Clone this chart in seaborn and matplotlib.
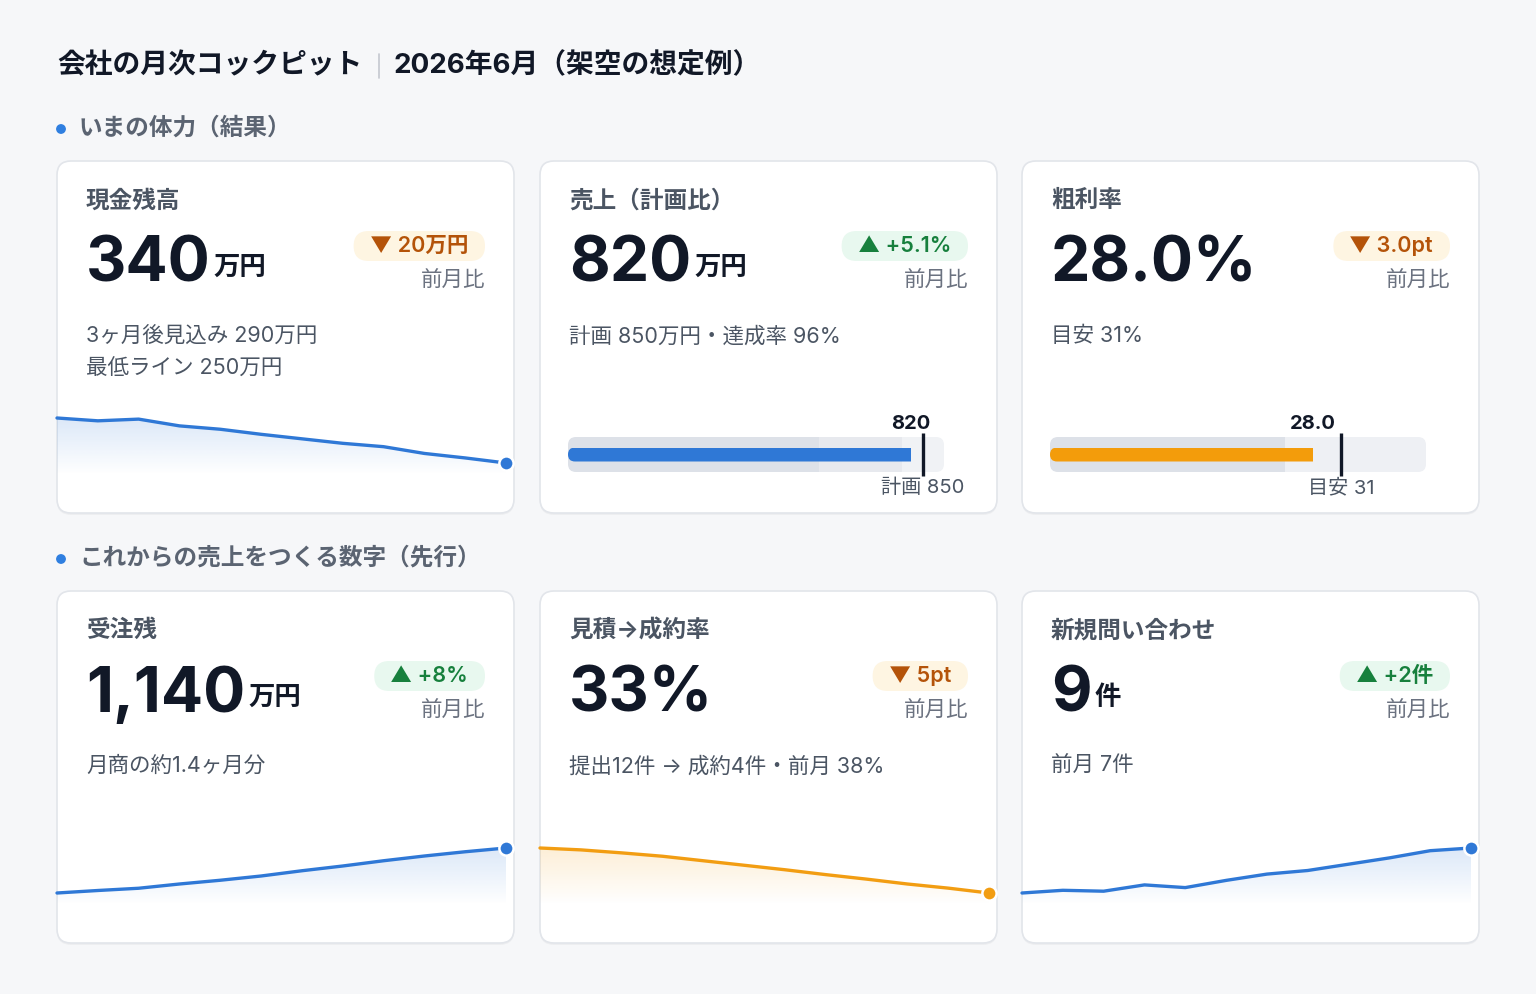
import numpy as np
import matplotlib
matplotlib.use("Agg")
import matplotlib.pyplot as plt
import seaborn as sns
from matplotlib.patches import FancyBboxPatch, Circle
from matplotlib.colors import to_rgb

W, H = 1536, 994

# ---- data ----
MONTHS = list(range(12))
CASH_TREND = [420, 415, 418, 406, 400, 391, 383, 375, 369, 357, 349, 340]
BACKLOG_TREND = [960, 970, 979, 996, 1011, 1028, 1049, 1068, 1089, 1108, 1125, 1140]
CONV_TREND = [45.0, 44.5, 43.7, 42.8, 41.6, 40.4, 39.2, 37.9, 36.7, 35.4, 34.3, 33.0]
INQUIRY_TREND = [4.0, 4.3, 4.2, 4.9, 4.6, 5.4, 6.1, 6.5, 7.2, 7.9, 8.7, 9.0]

SALES_ACTUAL = 820
SALES_PLAN = 850
SALES_BANDS = [600, 800, 900]
MARGIN_ACTUAL = 28.0
MARGIN_TARGET = 31
MARGIN_BANDS = [25, 40]

CARD_TITLES = ["現金残高", "売上（計画比）", "粗利率",
               "受注残", "見積→成約率", "新規問い合わせ"]
CARD_VALUES = ["340", "820", "28.0%", "1,140", "33%", "9"]
CARD_UNITS = ["万円", "万円", "", "万円", "", "件"]
BADGES = ["▼ 20万円", "▲ +5.1%", "▼ 3.0pt", "▲ +8%", "▼ 5pt", "▲ +2件"]
BADGE_UP = [False, True, False, True, False, True]
CARD_NOTES = [
    ["3ヶ月後見込み 290万円", "最低ライン 250万円"],
    ["計画 850万円・達成率 96%"],
    ["目安 31%"],
    ["月商の約1.4ヶ月分"],
    ["提出12件 → 成約4件・前月 38%"],
    ["前月 7件"],
]
SECTIONS = ["いまの体力（結果）", "これからの売上をつくる数字（先行）"]

# ---- style ----
BG = "#f6f7f9"
INK = "#111827"
GRAY = "#4b5563"
MUTED = "#6b7280"
BLUE = "#2f78d6"
ORANGE = "#f29d12"

sns.set_theme(style="white")
plt.rcParams["font.family"] = ["Inter", "Noto Sans CJK JP", "DejaVu Sans"]

fig = plt.figure(figsize=(W / 100, H / 100), dpi=100, facecolor=BG)
canvas = fig.add_axes([0, 0, 1, 1])
canvas.set_xlim(0, W)
canvas.set_ylim(H, 0)
canvas.set_axis_off()
renderer = fig.canvas.get_renderer()


def px_axes(x, y, w, h):
    ax = fig.add_axes([x / W, 1 - (y + h) / H, w / W, h / H])
    ax.set_axis_off()
    return ax


def text_width(t):
    return t.get_window_extent(renderer).width


# ---- header ----
t1 = canvas.text(57, 66, "会社の月次コックピット", fontsize=20, weight="bold",
                 color=INK, va="center")
x_end = 57 + text_width(t1)
canvas.plot([x_end + 17, x_end + 17], [54, 78], color="#c4c8cf", lw=1.2)
canvas.text(x_end + 31, 66, "2026年6月（架空の想定例）", fontsize=20,
            weight="bold", color=INK, va="center")

for sy, label in zip([129, 559], SECTIONS):
    canvas.add_patch(Circle((61, sy), 4.2, color="#2f7fe0"))
    canvas.text(79, sy - 1, label, fontsize=17, weight="bold", color="#5b6472",
                va="center")

CARD_X = [57, 540, 1022]
CARD_Y = [161, 591]
CARD_W, CARD_H = 457, 352

cards = []
for r, cy in enumerate(CARD_Y):
    for c, cx in enumerate(CARD_X):
        cards.append((cx, cy))

for i, (cx, cy) in enumerate(cards):
    shadow = FancyBboxPatch((cx, cy + 2), CARD_W, CARD_H,
                            boxstyle="round,pad=0,rounding_size=14",
                            facecolor="#000000", alpha=0.035, edgecolor="none")
    canvas.add_patch(shadow)
    card = FancyBboxPatch((cx, cy), CARD_W, CARD_H,
                          boxstyle="round,pad=0,rounding_size=14",
                          facecolor="white", edgecolor="#e2e5ea", lw=1.2)
    canvas.add_patch(card)

    canvas.text(cx + 29, cy + 40, CARD_TITLES[i], fontsize=17, weight="bold",
                color=GRAY, va="center")
    big = canvas.text(cx + 29, cy + 121, CARD_VALUES[i], fontsize=45,
                      weight="bold", color=INK, va="baseline")
    if CARD_UNITS[i]:
        ux = cx + 29 + text_width(big) + 3
        canvas.text(ux, cy + 114, CARD_UNITS[i], fontsize=19, weight="bold",
                    color=INK, va="baseline")

    right = cx + 428
    up = BADGE_UP[i]
    b_fg = "#17803d" if up else "#b45309"
    b_bg = "#e8f8ef" if up else "#fef5e2"
    bt = canvas.text(right - 17, cy + 85, BADGES[i], fontsize=15.5,
                     weight="semibold", color=b_fg, ha="right", va="center",
                     zorder=3)
    bw = text_width(bt) + 33
    canvas.add_patch(FancyBboxPatch((right - bw, cy + 70), bw, 30,
                                    boxstyle="round,pad=0,rounding_size=15",
                                    facecolor=b_bg, edgecolor="none", zorder=2))
    canvas.text(right, cy + 120, "前月比", fontsize=15.5, color=MUTED,
                ha="right", va="center")

    for k, note in enumerate(CARD_NOTES[i]):
        canvas.text(cx + 29, cy + 175 + 33 * k, note, fontsize=15.5, color=GRAY,
                    va="center")


def sparkline(cx, cy, values, color):
    top_px, bot_px = 257, 302
    ax_top, ax_bot = 240, 345
    ax = px_axes(cx, cy + ax_top, 449, ax_bot - ax_top)
    vmin, vmax = min(values), max(values)
    per_px = (vmax - vmin) / (bot_px - top_px)
    ylo = vmin - (ax_bot - bot_px) * per_px
    ax.set_ylim(ylo, vmax + (top_px - ax_top) * per_px)
    ax.set_xlim(MONTHS[0], MONTHS[-1])

    fade_bottom = vmin - 12 * per_px
    poly = ax.fill_between(MONTHS, values, ylo, color="none", lw=0)
    rgb = to_rgb(color)
    grad = np.zeros((100, 1, 4))
    grad[..., :3] = rgb
    grad[:, 0, 3] = np.linspace(0.17, 0.0, 100)
    im = ax.imshow(grad, extent=[MONTHS[0], MONTHS[-1], fade_bottom, vmax],
                   aspect="auto", origin="upper", interpolation="bilinear",
                   zorder=1)
    im.set_clip_path(poly.get_paths()[0], transform=ax.transData)

    sns.lineplot(x=MONTHS, y=values, ax=ax, color=color, linewidth=2.4,
                 zorder=3, clip_on=False)
    ax.scatter([MONTHS[-1]], [values[-1]], s=105, color=color,
               edgecolor="white", linewidth=1.8, zorder=5, clip_on=False)
    ax.set_xlim(MONTHS[0], MONTHS[-1])
    ax.set_axis_off()


def bullet(cx, cy, bands, band_colors, value, target, color, vlabel, tlabel):
    x0, x1 = cx + 28, cx + 404
    y0, y1 = cy + 276, cy + 311
    hgt = y1 - y0
    ax = px_axes(x0, y0, x1 - x0, hgt)
    ax.set_xlim(0, bands[-1])
    ax.set_ylim(-0.5, 0.5)

    track = FancyBboxPatch((x0, y0), x1 - x0, hgt,
                           boxstyle="round,pad=0,rounding_size=8",
                           transform=canvas.transData)
    starts = [0] + bands[:-1]
    for s, e, col in zip(starts, bands, band_colors):
        for b in ax.barh(0, e - s, left=s, height=1.0, color=col, lw=0):
            b.set_clip_path(track)

    bar_clip = FancyBboxPatch((x0, (y0 + y1) / 2 - 7), x1 - x0 + 30, 14,
                              boxstyle="round,pad=0,rounding_size=7",
                              transform=canvas.transData)
    for b in ax.barh(0, value, height=14 / hgt, color=color, lw=0):
        b.set_clip_path(bar_clip)

    ax.vlines(target, -0.5 - 4 / hgt, 0.5 + 4 / hgt, color=INK, lw=2.4,
              clip_on=False, zorder=5)
    ax.text(value, 0.5 + 13 / hgt, vlabel, ha="center", va="center",
            fontsize=14.5, weight="bold", color=INK)
    ax.text(target, -0.5 - 16 / hgt, tlabel, ha="center", va="center",
            fontsize=14.5, color=GRAY)


sparkline(*cards[0], CASH_TREND, BLUE)
sparkline(*cards[3], BACKLOG_TREND, BLUE)
sparkline(*cards[4], CONV_TREND, ORANGE)
sparkline(*cards[5], INQUIRY_TREND, BLUE)

bullet(*cards[1], SALES_BANDS, ["#dde1e8", "#e7e9ee", "#f0f2f5"],
       SALES_ACTUAL, SALES_PLAN, BLUE, f"{SALES_ACTUAL}", f"計画 {SALES_PLAN}")
bullet(*cards[2], MARGIN_BANDS, ["#dde1e8", "#eef0f4"],
       MARGIN_ACTUAL, MARGIN_TARGET, "#f39c0b", f"{MARGIN_ACTUAL:.1f}",
       f"目安 {MARGIN_TARGET}")

fig.savefig("out.png", dpi=100, facecolor=BG)
